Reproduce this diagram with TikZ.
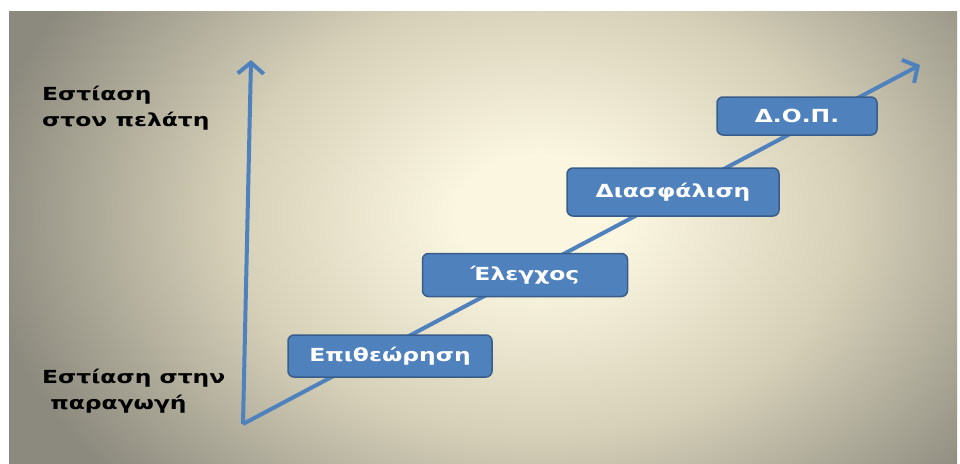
\documentclass[tikz,border=0pt]{standalone}
\usepackage{fontspec}
\newfontfamily\slidefont{DejaVu Sans}[FakeStretch=1.3]
\usetikzlibrary{arrows.meta}

\definecolor{bgin}{RGB}{251,246,224}
\definecolor{bgmid}{RGB}{214,208,184}
\definecolor{bgout}{RGB}{140,138,126}
\definecolor{stepblue}{RGB}{79,129,189}
\definecolor{stepedge}{RGB}{56,93,138}
\pgfdeclareradialshading{slideglow}{\pgfpoint{0bp}{0bp}}{color(0bp)=(bgin); color(3bp)=(bgin); color(11bp)=(bgmid); color(20bp)=(bgout); color(25bp)=(bgout)}

\tikzset{
  axis/.style={stepblue, line width=4pt, -{Straight Barb[length=11pt,width=26pt]}},
  stepbox/.style={draw=stepedge, line width=1.5pt, fill=stepblue, rounded corners=6pt,
    text=white, font=\slidefont\bfseries\fontsize{18}{21}\selectfont, inner sep=0pt},
  lbl/.style={anchor=west, align=left, text=black, font=\slidefont\bfseries\fontsize{18}{26}\selectfont, inner sep=0pt}
}

\begin{document}
\begin{tikzpicture}[x=1pt,y=-1pt]
\useasboundingbox (0,0) rectangle (960,463);
\fill [white] (0,0) rectangle (960,463);
\begin{scope}
\clip (9,11) rectangle (957,463);
\shade [shading=slideglow] (540,215) ellipse [x radius=700, y radius=500];
\end{scope}
\coordinate (origin) at (243,424);
\coordinate (ytop) at (251,60);
\coordinate (diagtop) at (920,65);
\draw [axis] (origin) -- (ytop);
\draw [axis] (origin) -- (diagtop);
\node [stepbox, minimum width=204pt, minimum height=42pt] (inspect) at (390,356) {Επιθεώρηση};
\node [stepbox, minimum width=205pt, minimum height=43pt] (control) at (525,275) {Έλεγχος};
\node [stepbox, minimum width=212pt, minimum height=48pt] (assure) at (673,192) {Διασφάλιση};
\node [stepbox, minimum width=160pt, minimum height=38pt] (tqm) at (797,116) {Δ.Ο.Π.};
\node [lbl] (custtxt) at (42,108) {Εστίαση\\στον πελάτη};
\node [lbl] (prodtxt) at (42,391) {Εστίαση στην\\\ παραγωγή};
\end{tikzpicture}
\end{document}
